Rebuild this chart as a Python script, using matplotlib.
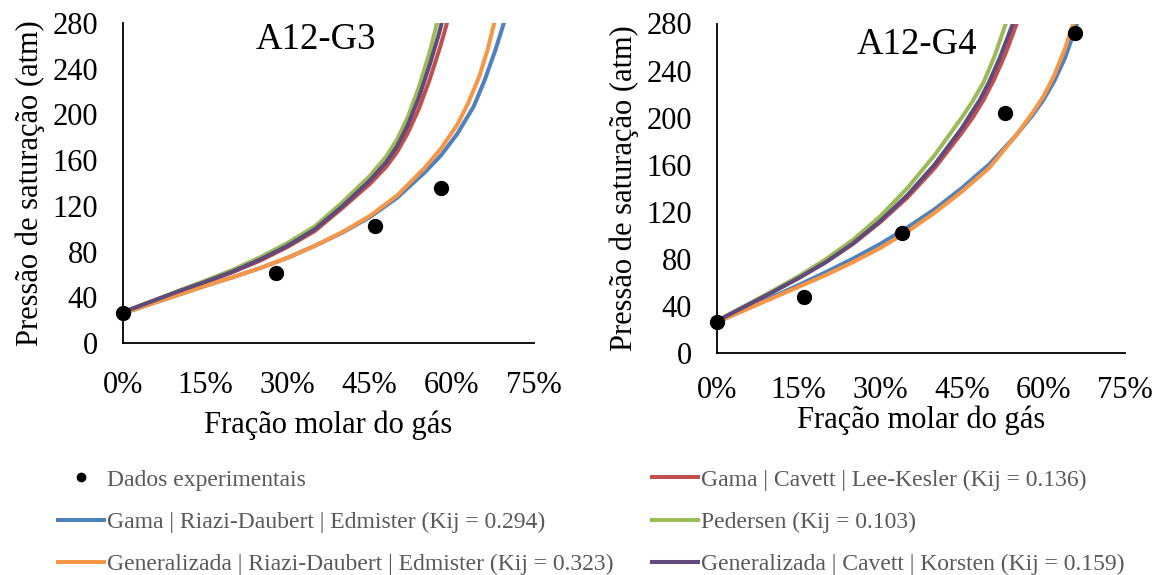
import matplotlib
matplotlib.use("Agg")
import matplotlib.pyplot as plt
from matplotlib.lines import Line2D
from matplotlib.ticker import PercentFormatter

plt.rcParams['font.family'] = ['Liberation Serif', 'DejaVu Serif']

# ---- data ----
# A12-G3
g3_exp_x = [0.0, 0.279, 0.46, 0.58]
g3_exp_y = [26, 61, 102, 136]

g3_x_blue = [0.0, 0.05, 0.10, 0.15, 0.20, 0.25, 0.30, 0.35, 0.40, 0.45, 0.50, 0.55, 0.58, 0.61, 0.64, 0.66, 0.68, 0.695, 0.71]
g3_y_blue = [26, 34, 42, 50, 57.5, 65.5, 74.5, 85, 96.5, 110, 127, 149, 164, 183, 207, 230, 257, 280, 308]
g3_x_orange = [0.0, 0.05, 0.10, 0.15, 0.20, 0.25, 0.30, 0.35, 0.40, 0.45, 0.50, 0.55, 0.58, 0.61, 0.63, 0.65, 0.665, 0.68, 0.69]
g3_y_orange = [26, 34, 42, 50, 57.5, 65.5, 74.5, 85, 97, 111, 129, 153, 170, 191, 210, 233, 256, 285, 310]
g3_x_red = [0.0, 0.05, 0.10, 0.15, 0.20, 0.25, 0.30, 0.35, 0.40, 0.45, 0.48, 0.50, 0.52, 0.54, 0.56, 0.58, 0.60, 0.61]
g3_y_red = [27, 36, 44.5, 53, 62, 72, 84, 98, 118, 139, 154, 167, 184, 205, 231, 261, 295, 312]
g3_x_green = [0.0, 0.05, 0.10, 0.15, 0.20, 0.25, 0.30, 0.35, 0.40, 0.45, 0.48, 0.50, 0.52, 0.54, 0.56, 0.573, 0.59]
g3_y_green = [27, 36, 45.5, 54.5, 64, 75, 87.5, 102, 123, 146, 163, 178, 198, 224, 255, 280, 315]
g3_x_purple = [0.0, 0.05, 0.10, 0.15, 0.20, 0.25, 0.30, 0.35, 0.40, 0.45, 0.48, 0.50, 0.52, 0.54, 0.56, 0.575, 0.585, 0.60]
g3_y_purple = [27, 36, 45, 53.5, 62.5, 73, 85, 99.5, 119.5, 142, 158, 172, 191, 215, 244, 268, 286, 318]

# A12-G4
g4_exp_x = [0.0, 0.160, 0.340, 0.530, 0.659]
g4_exp_y = [26, 47, 102, 204, 272]

g4_x_blue = [0.0, 0.05, 0.10, 0.15, 0.20, 0.25, 0.30, 0.35, 0.40, 0.45, 0.50, 0.55, 0.58, 0.60, 0.62, 0.64, 0.662, 0.675]
g4_y_blue = [26, 36.5, 47, 57.5, 68.5, 80, 92.5, 106.5, 122, 140, 160, 185, 202, 215, 231, 251, 280, 303]
g4_x_orange = [0.0, 0.05, 0.10, 0.15, 0.20, 0.25, 0.30, 0.35, 0.40, 0.45, 0.50, 0.55, 0.58, 0.60, 0.62, 0.64, 0.655, 0.67]
g4_y_orange = [26, 36, 46, 56, 66, 77, 89, 103, 119, 137, 157, 185, 204, 218, 236, 259, 280, 305]
g4_x_red = [0.0, 0.05, 0.10, 0.15, 0.20, 0.25, 0.30, 0.35, 0.40, 0.45, 0.47, 0.49, 0.51, 0.53, 0.551, 0.565]
g4_y_red = [27, 39, 51, 63.5, 77, 92.5, 111, 132, 157, 187, 200, 215, 233, 254, 280, 302]
g4_x_green = [0.0, 0.05, 0.10, 0.15, 0.20, 0.25, 0.30, 0.35, 0.40, 0.45, 0.47, 0.49, 0.51, 0.531, 0.545]
g4_y_green = [27, 39.5, 52, 65, 79.5, 96, 116, 140, 168, 200, 214, 230, 252, 280, 302]
g4_x_purple = [0.0, 0.05, 0.10, 0.15, 0.20, 0.25, 0.30, 0.35, 0.40, 0.45, 0.465, 0.483, 0.50, 0.52, 0.544, 0.56]
g4_y_purple = [27, 39, 51, 63.5, 77, 93, 112, 134, 160, 191, 202, 215, 230, 251, 280, 302]

labels = {
    'exp': 'Dados experimentais',
    'blue': 'Gama | Riazi-Daubert | Edmister (Kij = 0.294)',
    'orange': 'Generalizada | Riazi-Daubert | Edmister (Kij = 0.323)',
    'red': 'Gama | Cavett | Lee-Kesler (Kij = 0.136)',
    'green': 'Pedersen (Kij = 0.103)',
    'purple': 'Generalizada | Cavett | Korsten (Kij = 0.159)',
}
colors = {
    'blue': '#4F81BD',
    'orange': '#F79646',
    'red': '#C0504D',
    'green': '#9BBB59',
    'purple': '#604A7B',
}

fig = plt.figure(figsize=(11.62, 5.75), dpi=100)
ax1 = fig.add_axes([123 / 1162, 1 - 343 / 575, 411 / 1162, 320 / 575])
ax2 = fig.add_axes([717 / 1162, 1 - 352.7 / 575, 408 / 1162, 329.2 / 575])


def draw_panel(ax, title, title_xy, exp_x, exp_y, curves, xpad, xlabelpad):
    for key in ['red', 'blue', 'green', 'orange', 'purple']:
        cx, cy = curves[key]
        ax.plot(cx, cy, color=colors[key], lw=2.9, solid_joinstyle='round')
    ax.plot(exp_x, exp_y, 'o', color='black', ms=10, zorder=5, clip_on=False)

    ax.set_xlim(0, 0.75)
    ax.set_ylim(0, 280)
    ax.set_xticks([0, 0.15, 0.30, 0.45, 0.60, 0.75])
    ax.set_yticks(range(0, 281, 40))
    ax.xaxis.set_major_formatter(PercentFormatter(xmax=1, decimals=0))
    ax.tick_params(length=0, labelsize=22)
    ax.tick_params(axis='x', pad=xpad)
    ax.tick_params(axis='y', pad=18)
    for s in ['top', 'right']:
        ax.spines[s].set_visible(False)
    for s in ['left', 'bottom']:
        ax.spines[s].set_linewidth(1.3)
        ax.spines[s].set_color('black')
    ax.set_xlabel('Fração molar do gás', fontsize=22, labelpad=xlabelpad)
    ax.set_ylabel('Pressão de saturação (atm)', fontsize=22, labelpad=5)
    ax.text(title_xy[0], title_xy[1], title, transform=ax.transAxes,
            ha='center', va='center', fontsize=26.5)


draw_panel(ax1, 'A12-G3', (0.47, 0.947), g3_exp_x, g3_exp_y, {
    'blue': (g3_x_blue, g3_y_blue),
    'orange': (g3_x_orange, g3_y_orange),
    'red': (g3_x_red, g3_y_red),
    'green': (g3_x_green, g3_y_green),
    'purple': (g3_x_purple, g3_y_purple),
}, xpad=20, xlabelpad=8)
draw_panel(ax2, 'A12-G4', (0.49, 0.935), g4_exp_x, g4_exp_y, {
    'blue': (g4_x_blue, g4_y_blue),
    'orange': (g4_x_orange, g4_y_orange),
    'red': (g4_x_red, g4_y_red),
    'green': (g4_x_green, g4_y_green),
    'purple': (g4_x_purple, g4_y_purple),
}, xpad=17, xlabelpad=0)

# legend below, two columns placed separately
def handle(key):
    if key == 'exp':
        return Line2D([], [], ls='none', marker='o', color='black', ms=6)
    return Line2D([], [], color=colors[key], lw=2.9)

leg_kw = dict(frameon=False, fontsize=17, handlelength=1.95, handletextpad=0.12,
              labelspacing=0.88, borderaxespad=0, borderpad=0,
              labelcolor='#595959', loc='upper left')
col1 = ['exp', 'blue', 'orange']
col2 = ['red', 'green', 'purple']
fig.legend([handle(k) for k in col1], [labels[k] for k in col1],
           bbox_to_anchor=(58 / 1162, 1 - 469 / 575), **leg_kw)
fig.legend([handle(k) for k in col2], [labels[k] for k in col2],
           bbox_to_anchor=(652 / 1162, 1 - 469 / 575), **leg_kw)

fig.savefig('out.png', dpi=100)
